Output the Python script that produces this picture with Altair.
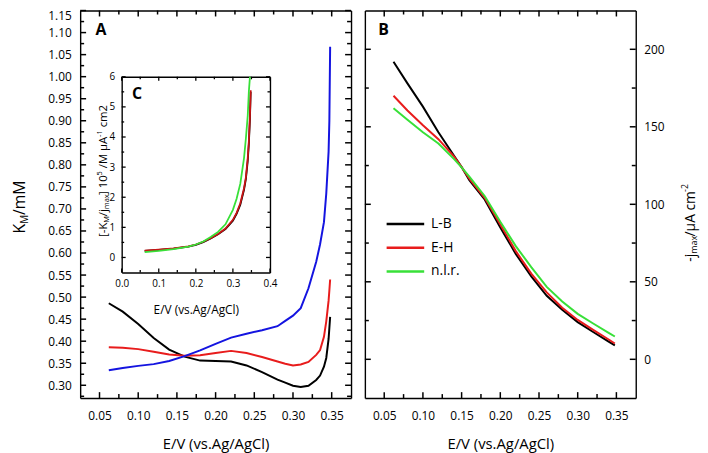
import altair as alt
import pandas as pd

FONT = "Open Sans"
W, H = 562, 392

# ---------------- Panel A : K_M / mM vs E ----------------
xa = [0.062, 0.08, 0.10, 0.12, 0.14, 0.16, 0.18, 0.20, 0.22, 0.24, 0.26, 0.28,
      0.29, 0.30, 0.31, 0.32, 0.33, 0.335, 0.34, 0.343, 0.346, 0.347, 0.348]
ka_lb = [0.486, 0.467, 0.439, 0.407, 0.381, 0.365, 0.356, 0.355, 0.354, 0.345, 0.330, 0.313,
         0.306, 0.299, 0.296, 0.299, 0.312, 0.322, 0.342, 0.362, 0.405, 0.43, 0.455]
ka_eh = [0.386, 0.385, 0.382, 0.376, 0.370, 0.367, 0.368, 0.373, 0.378, 0.373, 0.364, 0.354,
         0.349, 0.345, 0.347, 0.353, 0.369, 0.380, 0.41, 0.445, 0.492, 0.515, 0.54]
ka_nlr = [0.334, 0.339, 0.344, 0.348, 0.355, 0.366, 0.379, 0.394, 0.408, 0.417, 0.425, 0.434,
          0.446, 0.458, 0.475, 0.52, 0.58, 0.62, 0.67, 0.735, 0.83, 0.9, 1.068]

# ---------------- Panel B : -j_max vs E ----------------
xb = [0.062, 0.08, 0.10, 0.12, 0.14, 0.15, 0.16, 0.18, 0.20, 0.22, 0.24, 0.26, 0.28,
      0.30, 0.32, 0.34, 0.348]
jb_lb = [192, 178, 163, 146.5, 131.5, 124, 115.5, 103, 85, 68, 53.5, 41, 32, 24, 17.6, 11.4, 9]
jb_eh = [170, 160.5, 151, 142, 131, 124, 116.5, 104, 87, 69.8, 55.3, 43.2, 33.3, 25.4, 19, 12.8, 10.2]
jb_nlr = [162, 154.6, 146.5, 139.2, 129.3, 123.8, 117.8, 105.2, 88.7, 73, 59.5, 46.7, 37.3,
          29.3, 23.1, 17.1, 14.7]

# ---------------- Inset C ----------------
xc = [0.062, 0.10, 0.14, 0.18, 0.20, 0.22, 0.24, 0.26, 0.28, 0.30, 0.31, 0.32, 0.33,
      0.335, 0.34, 0.343, 0.346, 0.348]
c_lb = [0.22, 0.25, 0.29, 0.36, 0.42, 0.51, 0.63, 0.77, 0.94, 1.22, 1.45, 1.75, 2.25,
        2.6, 3.2, 3.76, 4.6, 5.5]
c_eh = [0.23, 0.26, 0.30, 0.37, 0.43, 0.52, 0.64, 0.78, 0.96, 1.25, 1.48, 1.8, 2.3,
        2.66, 3.3, 3.85, 4.7, 5.55]
xc_g = [0.062, 0.10, 0.14, 0.18, 0.20, 0.22, 0.24, 0.26, 0.28, 0.30, 0.31, 0.32, 0.33,
        0.335, 0.34, 0.343, 0.346]
c_nlr = [0.18, 0.22, 0.28, 0.36, 0.43, 0.53, 0.68, 0.85, 1.1, 1.58, 1.95, 2.45, 3.3,
         3.95, 4.7, 5.5, 6.0]

series_names = ["L-B", "E-H", "n.l.r."]
series_colors = ["#000000", "#e81c1c", "#38e038"]
blue = "#1414e0"

# ---------------- ticks ----------------
a_x_major = [0.05, 0.10, 0.15, 0.20, 0.25, 0.30, 0.35]
a_x_minor = [0.075, 0.125, 0.175, 0.225, 0.275, 0.325]
a_y_major = [0.30, 0.35, 0.40, 0.45, 0.50, 0.55, 0.60, 0.65, 0.70, 0.75, 0.80, 0.85,
             0.90, 0.95, 1.00, 1.05, 1.10, 1.15]
a_y_minor = [0.275, 0.325, 0.375, 0.425, 0.475, 0.525, 0.575, 0.625, 0.675, 0.725, 0.775,
             0.825, 0.875, 0.925, 0.975, 1.025, 1.075, 1.125]
b_y_major = [0, 50, 100, 150, 200]
b_y_minor = [25, 75, 125, 175]
c_x_major = [0.0, 0.1, 0.2, 0.3, 0.4]
c_x_minor = [0.05, 0.15, 0.25, 0.35]
c_y_major = [0, 1, 2, 3, 4, 5, 6]
c_y_minor = [0.5, 1.5, 2.5, 3.5, 4.5, 5.5]

# ---------------- helpers ----------------
def sc(dom, rng):
    return alt.Scale(domain=dom, range=rng, zero=False, nice=False)


def edge_axis(orient, offset, values=None, labels=False, fmt=None, lsize=12, lpad=8,
              title=None, tsize=15, tpad=10, top_flush=False):
    kw = dict(orient=orient, offset=offset, domain=True, domainColor="black", domainWidth=1.4,
              ticks=False, tickSize=0, grid=False, labels=labels)
    if labels:
        kw.update(values=values, format=fmt, labelFont=FONT, labelFontSize=lsize,
                  labelColor="black", labelPadding=lpad, labelFlush=False,
                  labelOverlap=False, labelBound=False)
        if top_flush:
            kw["labelBaseline"] = {"condition": {"test": "datum.value > 1.14", "value": "top"},
                                   "value": "middle"}
    if title:
        kw.update(title=title, titleFont=FONT, titleFontSize=tsize, titleFontWeight="normal",
                  titleColor="black", titlePadding=tpad)
    else:
        kw["title"] = None
    return alt.Axis(**kw)


def panel_frame(xd, xr, yd, yr, xmaj, xmin, ymaj, ymin, tmaj, tmin,
                bottom_lab=None, left_lab=None, right_lab=None, tw=1.5):
    left_e, right_e = xr
    bottom_e, top_e = yr
    xs, ys = sc(xd, xr), sc(yd, yr)
    dummy = pd.DataFrame({"x": [(xd[0] + xd[1]) / 2], "y": [(yd[0] + yd[1]) / 2]})
    bl = bottom_lab or {}
    ll = left_lab or {}
    rl = right_lab or {}
    out = [
        alt.Chart(dummy).mark_point(opacity=0, size=1).encode(
            x=alt.X("x:Q", scale=xs, axis=edge_axis("bottom", bottom_e - H, xmaj, **bl)),
            y=alt.Y("y:Q", scale=ys, axis=edge_axis("left", -left_e, ymaj, **ll)),
        ),
        alt.Chart(dummy).mark_point(opacity=0, size=1).encode(
            x=alt.X("x:Q", scale=xs, axis=edge_axis("top", -top_e)),
            y=alt.Y("y:Q", scale=ys, axis=edge_axis("right", right_e - W, ymaj, **rl)),
        ),
    ]
    # inward tick marks on all four sides, drawn as short rules
    for vals, t in ((xmaj, tmaj), (xmin, tmin)):
        df = pd.DataFrame({"v": vals})
        for y1, y2 in ((bottom_e, bottom_e - t), (top_e, top_e + t)):
            out.append(alt.Chart(df).mark_rule(color="black", strokeWidth=tw).encode(
                x=alt.X("v:Q", scale=xs, axis=None), y=alt.value(y1), y2=alt.value(y2)))
    for vals, t in ((ymaj, tmaj), (ymin, tmin)):
        df = pd.DataFrame({"v": vals})
        for x1, x2 in ((left_e, left_e + t), (right_e, right_e - t)):
            out.append(alt.Chart(df).mark_rule(color="black", strokeWidth=tw).encode(
                y=alt.Y("v:Q", scale=ys, axis=None), x=alt.value(x1), x2=alt.value(x2)))
    return out


def line(xs_vals, ys_vals, xd, xr, yd, yr, color, width=2.0):
    df = pd.DataFrame({"x": xs_vals, "y": ys_vals})
    return alt.Chart(df).mark_line(color=color, strokeWidth=width).encode(
        x=alt.X("x:Q", scale=sc(xd, xr), axis=None),
        y=alt.Y("y:Q", scale=sc(yd, yr), axis=None),
    )


EM = {"0": .572, "1": .572, "2": .572, "5": .572, ".": .266, " ": .26, "/": .367, "-": .322,
      "[": .306, "]": .306, "A": .635, "K": .608, "M": .89, "a": .556, "c": .476, "j": .253,
      "m": .873, "x": .505, "μ": .604}


def text_w(t, size):
    return sum(EM.get(ch, .55) for ch in t) * size


one = pd.DataFrame({"k": [0]})


def vtext(segments, x0, y0):
    """rotated (bottom-to-top) text built from pieces, shift>0 = superscript"""
    out = []
    y = y0
    for txt, size, shift in segments:
        lead = len(txt) - len(txt.lstrip(" "))
        y -= lead * EM[" "] * size
        body = txt.lstrip(" ")
        out.append(
            alt.Chart(one).mark_text(text=body, font=FONT, fontSize=size, angle=270, align="left",
                                     baseline="alphabetic", color="black").encode(
                x=alt.value(x0 - shift), y=alt.value(y))
        )
        y -= text_w(body, size)
    return out


def label(t, x, y, size=16):
    return alt.Chart(one).mark_text(text=t, font=FONT, fontSize=size, fontWeight="bold",
                                    align="center", baseline="alphabetic", color="black").encode(
        x=alt.value(x), y=alt.value(y))


# ---------------- geometry of the three frames ----------------
A_XD, A_XR, A_YD, A_YR = [0.025, 0.375], [0, 274], [0.271, 1.15], [392, 0]
B_XD, B_XR, B_YD, B_YR = [0.025, 0.375], [288, 562], [-25, 225], [392, 0]
C_XD, C_XR, C_YD, C_YR = [0.0, 0.4], [42, 192], [-0.5, 6.0], [265, 67]

xtitle = "E/V (vs.Ag/AgCl)"

layers = []
# Panel A
layers += panel_frame(A_XD, A_XR, A_YD, A_YR, a_x_major, a_x_minor, a_y_major, a_y_minor, 6, 4,
                      bottom_lab=dict(labels=True, fmt=".2f", lpad=13, title=xtitle, tpad=15),
                      left_lab=dict(labels=True, fmt=".2f", lpad=9, top_flush=True))
layers.append(line(xa, ka_lb, A_XD, A_XR, A_YD, A_YR, series_colors[0]))
layers.append(line(xa, ka_eh, A_XD, A_XR, A_YD, A_YR, series_colors[1]))
layers.append(line(xa, ka_nlr, A_XD, A_XR, A_YD, A_YR, blue))

# Panel B
layers += panel_frame(B_XD, B_XR, B_YD, B_YR, a_x_major, a_x_minor, b_y_major, b_y_minor, 6, 4,
                      bottom_lab=dict(labels=True, fmt=".2f", lpad=13, title=xtitle, tpad=15),
                      right_lab=dict(labels=True, fmt="d", lpad=8))
dfB = pd.concat([
    pd.DataFrame({"x": xb, "y": jb_lb, "s": series_names[0]}),
    pd.DataFrame({"x": xb, "y": jb_eh, "s": series_names[1]}),
    pd.DataFrame({"x": xb, "y": jb_nlr, "s": series_names[2]}),
])
layers.append(
    alt.Chart(dfB).mark_line(strokeWidth=2.0).encode(
        x=alt.X("x:Q", scale=sc(B_XD, B_XR), axis=None),
        y=alt.Y("y:Q", scale=sc(B_YD, B_YR), axis=None),
        color=alt.Color("s:N", scale=alt.Scale(domain=series_names, range=series_colors),
                        sort=series_names,
                        legend=alt.Legend(orient="none", legendX=318, legendY=205, title=None,
                                          symbolType="M-2,0H2", symbolSize=361,
                                          symbolStrokeWidth=2.5, labelFont=FONT,
                                          labelFontSize=14, labelColor="black",
                                          labelOffset=15, rowPadding=6, padding=0)),
        detail="s:N",
    )
)

# Inset C
layers += panel_frame(C_XD, C_XR, C_YD, C_YR, c_x_major, c_x_minor, c_y_major, c_y_minor, 4, 2.5,
                      bottom_lab=dict(labels=True, fmt=".1f", lsize=10, lpad=6, title=xtitle,
                                      tsize=12, tpad=16),
                      left_lab=dict(labels=True, fmt="d", lsize=10, lpad=7), tw=1.3)
layers.append(line(xc, c_lb, C_XD, C_XR, C_YD, C_YR, series_colors[0], 1.8))
layers.append(line(xc, c_eh, C_XD, C_XR, C_YD, C_YR, "#c81414", 1.8))
layers.append(line(xc_g, c_nlr, C_XD, C_XR, C_YD, C_YR, series_colors[2], 1.8))

# rotated axis titles with sub/superscripts
layers += vtext([("K", 16, 0), ("M", 10, -3.5), ("/mM", 16, 0)], -56, 225.5)
layers += vtext([("-j", 14, 0), ("max", 9, -2.5), ("/μA cm", 14, 0), ("-2", 9, 7)], 621.5, 254)
layers += vtext([("[-K", 11.5, 0), ("M", 7.5, -2.5), ("/j", 11.5, 0), ("max", 7.5, -2.5),
                 ("] 10", 11.5, 0), ("5", 7.5, 5), (" /M μA", 11.5, 0), ("-1", 7.5, 5),
                 (" cm2", 11.5, 0)], 27, 229)

# panel letters
layers += [label("A", 21, 25), label("B", 307, 25), label("C", 57.5, 89)]

chart = (
    alt.layer(*layers)
    .resolve_scale(x="independent", y="independent")
    .properties(width=W, height=H, background="white",
                autosize=alt.AutoSizeParams(type="none"),
                padding={"left": 73, "top": 0, "right": 65, "bottom": 53})
    .configure_view(stroke=None)
)

chart.save("out.html", embed_options={"renderer": "svg", "actions": False})
